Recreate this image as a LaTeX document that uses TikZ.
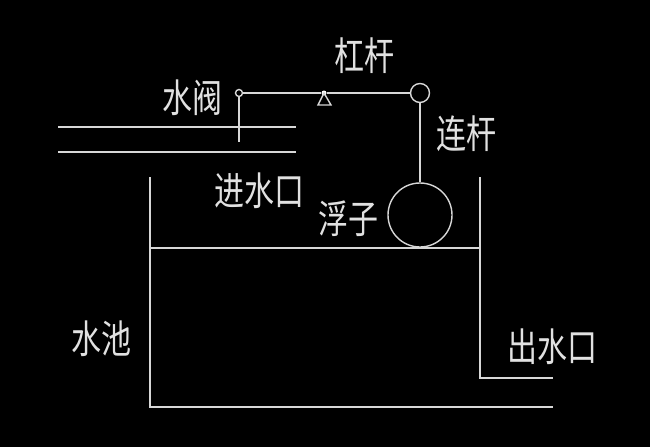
\documentclass[tikz,border=0pt]{standalone}
\usepackage{fontspec}
\usepackage{xcolor}
\usetikzlibrary{shapes.geometric, positioning, calc}
\newfontfamily\cjkfont{Noto Sans CJK SC}
\definecolor{cLine}{RGB}{215,215,215}
\definecolor{cLabel}{RGB}{225,225,225}
\tikzset{
	wire/.style    ={draw=cLine, line width=1.4pt},
	hinge/.style   ={circle, draw=cLine, line width=1.4pt, inner sep=0pt},
	lbl/.style     ={text=cLabel, font=\cjkfont\fontsize{30}{30}\selectfont, inner sep=0pt, yscale=1.3, transform shape},
}

\begin{document}
\begin{tikzpicture}[x=1pt, y=-1pt]
	\fill[black] (0,0) rectangle (650,447);
	\useasboundingbox (0,0) rectangle (650,447);
	% lever and its hinges
	\node[hinge, minimum size=7pt] (valve) at (239,93) {};
	\node[hinge, minimum size=19pt] (joint) at (420,93) {};
	\node[hinge, minimum size=64pt] (float) at (420,215) {};
	\node[circle, fill=white, inner sep=0pt, minimum size=5pt] (pivot) at (324,93) {};
	\draw[wire] (valve) -- (pivot);
	\draw[wire] (pivot) -- (joint);
	\draw[wire] (joint) -- (float);
	\draw[wire] (pivot.center) -- (318,105) -- (331,105) -- cycle;
	\coordinate (stem) at (239,142);
	\draw[wire] (valve) -- (stem);
	% inlet pipe
	\foreach \y in {127,152} \draw[wire] (58,\y) -- (296,\y);
	% tank
	\coordinate (tl) at (150,177);
	\coordinate (bl) at (150,407);
	\coordinate (br) at (553,407);
	\coordinate (tr) at (480,177);
	\coordinate (ol) at (480,378);
	\coordinate (or) at (553,378);
	\draw[wire] (tl) -- (bl) -- (br);
	\draw[wire] (tr) -- (ol) -- (or);
	\draw[wire] (150,248) -- (480,248);
	% labels
	\node[lbl] (lshuifa) at (192,98) {水阀};
	\node[lbl] (lgangan) at (364,56) {杠杆};
	\node[lbl] (llian) at (466,134) {连杆};
	\node[lbl] (ljin) at (259,191) {进水口};
	\node[lbl] (lfu) at (348,219) {浮子};
	\node[lbl] (lchi) at (101,339) {水池};
	\node[lbl] (lchu) at (552,347) {出水口};
\end{tikzpicture}
\end{document}
